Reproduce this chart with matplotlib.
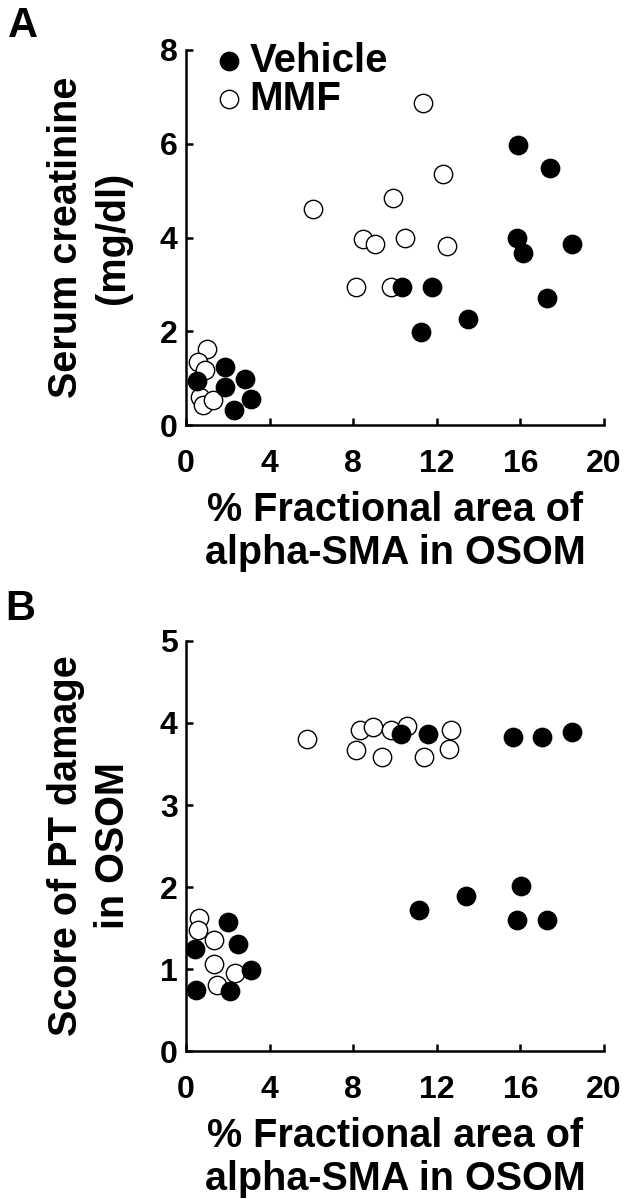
import numpy as np
import matplotlib.pyplot as plt

plt.rcParams['font.family'] = ['Liberation Sans', 'DejaVu Sans']
plt.rcParams['font.weight'] = 'bold'

# panel A: serum creatinine vs alpha-SMA area
a_veh_x = [15.9, 17.42, 15.85, 16.14, 18.45, 17.26, 10.32, 11.79, 13.48, 11.23,
           1.87, 0.51, 1.87, 2.82, 3.11, 2.31]
a_veh_y = [5.97, 5.49, 4.0, 3.66, 3.86, 2.72, 2.94, 2.94, 2.27, 1.98,
           1.23, 0.95, 0.82, 0.99, 0.55, 0.33]
a_mmf_x = [11.35, 12.28, 9.92, 6.06, 8.45, 9.04, 10.49, 12.47, 8.12, 9.79,
           0.99, 0.59, 0.91, 0.67, 0.83, 1.31]
a_mmf_y = [6.86, 5.35, 4.85, 4.60, 3.96, 3.87, 4.0, 3.82, 2.94, 2.94,
           1.63, 1.35, 1.17, 0.60, 0.43, 0.53]

# panel B: PT damage score vs alpha-SMA area
b_veh_x = [10.27, 11.6, 15.66, 17.05, 18.45, 16.01, 13.38, 11.15, 15.85, 17.26,
           2.0, 2.5, 0.43, 3.1, 0.46, 2.1]
b_veh_y = [3.87, 3.87, 3.83, 3.83, 3.89, 2.01, 1.89, 1.72, 1.60, 1.60,
           1.57, 1.30, 1.24, 0.99, 0.75, 0.73]
b_mmf_x = [5.81, 8.33, 8.93, 9.81, 10.56, 12.66, 8.13, 9.38, 11.39, 12.57,
           0.64, 0.56, 1.34, 1.35, 2.34, 1.50]
b_mmf_y = [3.80, 3.92, 3.95, 3.91, 3.96, 3.92, 3.67, 3.59, 3.59, 3.68,
           1.62, 1.47, 1.35, 1.06, 0.95, 0.80]

xlabel = '% Fractional area of\nalpha-SMA in OSOM'

fig = plt.figure(figsize=(6.32, 11.99), dpi=100)
axA = fig.add_axes([0.2943, 0.6455, 0.6614, 0.3128])
axB = fig.add_axes([0.2943, 0.1234, 0.6614, 0.3420])

def style(ax, ymax, yticks):
    ax.set_xlim(0, 20)
    ax.set_ylim(0, ymax)
    ax.set_xticks([0, 4, 8, 12, 16, 20])
    ax.set_yticks(yticks)
    for s in ['top', 'right']:
        ax.spines[s].set_visible(False)
    for s in ['left', 'bottom']:
        ax.spines[s].set_linewidth(1.8)
    ax.tick_params(direction='in', length=5, width=1.8, labelsize=23)
    ax.tick_params(axis='x', pad=17)
    ax.tick_params(axis='y', pad=6)
    ax.set_xlabel(xlabel, fontsize=28.5, fontweight='bold', linespacing=1.15, labelpad=9)

s = 175
axA.scatter(a_mmf_x, a_mmf_y, s=s, facecolor='white', edgecolor='black', linewidth=1.0,
            label='MMF', zorder=3, clip_on=False)
axA.scatter(a_veh_x, a_veh_y, s=s, facecolor='black', edgecolor='black', linewidth=1.0,
            label='Vehicle', zorder=4, clip_on=False)
style(axA, 8, [0, 2, 4, 6, 8])
axA.set_ylabel('Serum creatinine\n(mg/dl)', fontsize=28.5, fontweight='bold', linespacing=1.3, labelpad=20)
h, l = axA.get_legend_handles_labels()
axA.legend(h[::-1], l[::-1], loc='upper left', bbox_to_anchor=(0.065, 1.022), frameon=False,
           handlelength=0.8, handletextpad=0.1, labelspacing=0.0, borderaxespad=0, borderpad=0,
           prop={'weight': 'bold', 'size': 29})

axB.scatter(b_mmf_x, b_mmf_y, s=s, facecolor='white', edgecolor='black', linewidth=1.0,
            zorder=3, clip_on=False)
axB.scatter(b_veh_x, b_veh_y, s=s, facecolor='black', edgecolor='black', linewidth=1.0,
            zorder=4, clip_on=False)
style(axB, 5, [0, 1, 2, 3, 4, 5])
axB.set_ylabel('Score of PT damage\nin OSOM', fontsize=28.5, fontweight='bold', linespacing=1.3, labelpad=20)

fig.text(0.013, 1 - 37 / 1199, 'A', fontsize=30, fontweight='bold', va='baseline')
fig.text(0.008, 1 - 620 / 1199, 'B', fontsize=30, fontweight='bold', va='baseline')

fig.savefig('out.png', dpi=100, facecolor='white')
